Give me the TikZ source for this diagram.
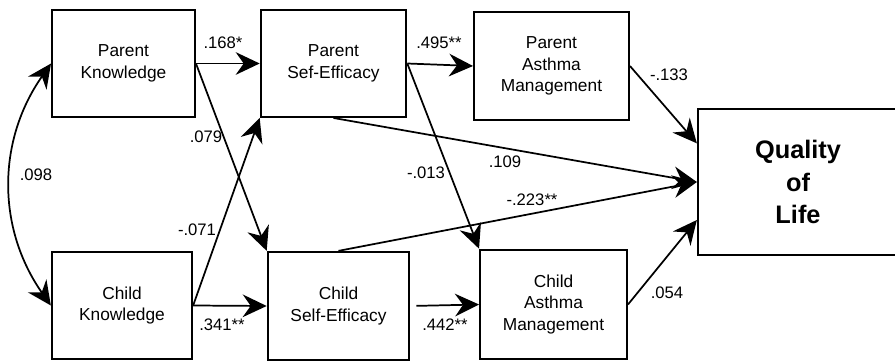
\documentclass[tikz,border=0pt]{standalone}
\usepackage{fontspec}
\setmainfont{Liberation Sans}
\usetikzlibrary{arrows.meta}

\tikzset{
  varbox/.style={rectangle, draw, line width=1.7pt, align=center, inner sep=0pt, font=\fontsize{13}{16.3}\selectfont},
  effect/.style={line width=1.3pt, ->},
  coef/.style={inner sep=0pt, font=\fontsize{12.5}{15}\selectfont}
}

\begin{document}
\begin{tikzpicture}[x=0.75pt, y=-0.75pt, >={Stealth[length=18pt,width=17pt,inset=6pt]}]
		\useasboundingbox (0,0) rectangle (895,363);
		\node (PK)  at (123.5, 63.5) [varbox, minimum width=107pt, minimum height=80pt] {Parent\\Knowledge};
		\node (PSE) at (333.5, 63.5) [varbox, minimum width=109pt, minimum height=80pt] {Parent\\Sef-Efficacy};
		\node (PAM) at (551.5, 66)   [varbox, minimum width=116pt, minimum height=81pt] {Parent\\Asthma\\Management};
		\node (CK)  at (122, 305.5)  [varbox, minimum width=105pt, minimum height=80pt] {Child\\Knowledge};
		\node (CSE) at (338.5, 306)  [varbox, minimum width=106pt, minimum height=81pt] {Child\\Self-Efficacy};
		\node (CAM) at (553.5, 304.5) [varbox, minimum width=110pt, minimum height=82pt] {Child\\Asthma\\Management};
		\node (QoL) at (798, 182)    [varbox, minimum width=150pt, minimum height=109pt, font=\fontsize{19}{24.5}\selectfont\bfseries] {Quality\\of\\Life};
		\draw[effect] (PK.east) -- (PSE.west);
		\draw[effect] (PK.east) -- (CSE.north west);
		\draw[effect] (CK.east) -- (PSE.south west);
		\draw[effect] (CK.east) -- (CSE.west);
		\draw[effect] (PSE.east) -- (PAM.west);
		\draw[effect] (PSE.east) -- (CAM.north west);
		\draw[effect] (PSE.south) -- (QoL.west);
		\draw[effect] (CSE.north) -- (QoL.west);
		\draw[effect, shorten <=4.5pt] (CSE.east) -- (CAM.west);
		\draw[effect] (PAM.east) -- ([yshift=29pt]QoL.west);
		\draw[effect] (CAM.east) -- ([yshift=-28.5pt]QoL.west);
		\draw[effect, <->] (PK.west) to[bend right=35] (CK.west);
		\node (c098) at (36, 175)  [coef] {.098};
		\node (c168) at (223, 43)  [coef] {.168*};
		\node (c079) at (206, 137) [coef] {.079};
		\node (c071) at (197, 230) [coef] {-.071};
		\node (c341) at (222, 325) [coef] {.341**};
		\node (c495) at (439, 43)  [coef] {.495**};
		\node (c013) at (426, 173) [coef] {-.013};
		\node (c109) at (505, 162) [coef] {.109};
		\node (c223) at (532, 200) [coef] {-.223**};
		\node (c442) at (445, 325) [coef] {.442**};
		\node (c133) at (669, 75)  [coef] {-.133};
		\node (c054) at (667, 293) [coef] {.054};
\end{tikzpicture}
\end{document}
